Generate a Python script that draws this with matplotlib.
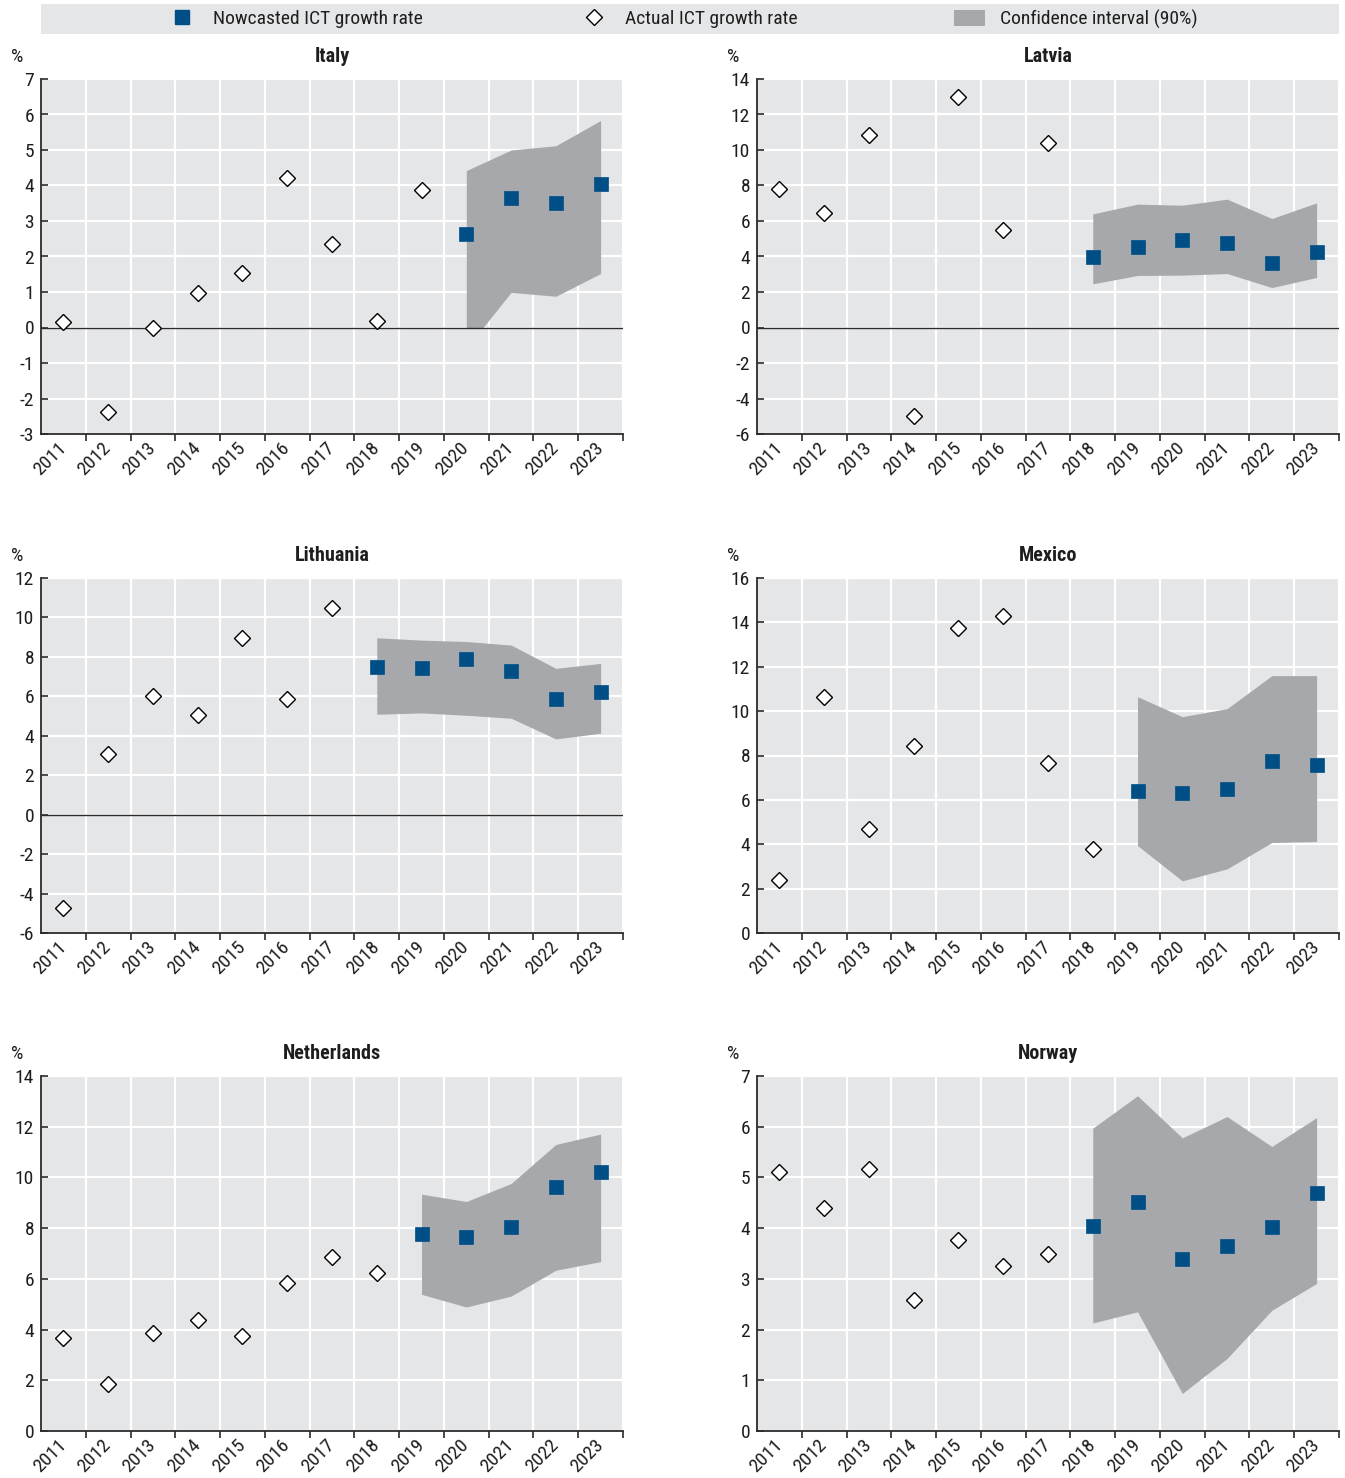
import matplotlib
matplotlib.use("Agg")
import matplotlib.pyplot as plt
from matplotlib import font_manager
from matplotlib.lines import Line2D
from matplotlib.patches import Patch, Rectangle
import numpy as np

# ---------------- data ----------------
years = [str(y) for y in range(2011, 2024)]

italy_actual_years = years[:9]
italy_actual = [0.16, -2.38, 0.0, 0.96, 1.53, 4.22, 2.35, 0.19, 3.86]
italy_nowcast_years = years[9:]
italy_nowcast = [2.62, 3.66, 3.52, 4.04]
italy_lower = [-0.59, 0.99, 0.88, 1.52]
italy_upper = [4.42, 5.00, 5.12, 5.83]

latvia_actual_years = years[:7]
latvia_actual = [7.83, 6.44, 10.85, -5.01, 12.98, 5.50, 10.37]
latvia_nowcast_years = years[7:]
latvia_nowcast = [3.96, 4.56, 4.94, 4.75, 3.66, 4.26]
latvia_lower = [2.46, 2.93, 2.95, 3.04, 2.25, 2.82]
latvia_upper = [6.40, 6.95, 6.89, 7.23, 6.14, 7.02]

lithuania_actual_years = years[:7]
lithuania_actual = [-4.75, 3.08, 6.02, 5.06, 8.95, 5.88, 10.50]
lithuania_nowcast_years = years[7:]
lithuania_nowcast = [7.48, 7.43, 7.90, 7.30, 5.88, 6.20]
lithuania_lower = [5.09, 5.16, 5.04, 4.89, 3.84, 4.13]
lithuania_upper = [8.97, 8.85, 8.78, 8.60, 7.42, 7.67]

mexico_actual_years = years[:8]
mexico_actual = [2.40, 10.62, 4.69, 8.44, 13.76, 14.30, 7.67, 3.78]
mexico_nowcast_years = years[8:]
mexico_nowcast = [6.39, 6.30, 6.51, 7.77, 7.59]
mexico_lower = [3.94, 2.35, 2.89, 4.08, 4.12]
mexico_upper = [10.65, 9.75, 10.11, 11.60, 11.60]

netherlands_actual_years = years[:8]
netherlands_actual = [3.68, 1.84, 3.88, 4.38, 3.75, 5.83, 6.86, 6.24]
netherlands_nowcast_years = years[8:]
netherlands_nowcast = [7.76, 7.66, 8.05, 9.63, 10.22]
netherlands_lower = [5.39, 4.89, 5.32, 6.34, 6.68]
netherlands_upper = [9.34, 9.05, 9.76, 11.30, 11.71]

norway_actual_years = years[:7]
norway_actual = [5.10, 4.39, 5.16, 2.59, 3.76, 3.26, 3.49]
norway_nowcast_years = years[7:]
norway_nowcast = [4.04, 4.51, 3.39, 3.64, 4.03, 4.70]
norway_lower = [2.13, 2.35, 0.74, 1.43, 2.38, 2.91]
norway_upper = [5.97, 6.61, 5.78, 6.20, 5.61, 6.18]

countries = ["Italy", "Latvia", "Lithuania", "Mexico", "Netherlands", "Norway"]
y_ranges = [(-3, 7, 1), (-6, 14, 2), (-6, 12, 2), (0, 16, 2), (0, 14, 2), (0, 7, 1)]

legend_labels = ["Nowcasted ICT growth rate", "Actual ICT growth rate",
                 "Confidence interval (90%)"]

panels = [
    (italy_actual_years, italy_actual, italy_nowcast_years, italy_nowcast, italy_lower, italy_upper),
    (latvia_actual_years, latvia_actual, latvia_nowcast_years, latvia_nowcast, latvia_lower, latvia_upper),
    (lithuania_actual_years, lithuania_actual, lithuania_nowcast_years, lithuania_nowcast, lithuania_lower, lithuania_upper),
    (mexico_actual_years, mexico_actual, mexico_nowcast_years, mexico_nowcast, mexico_lower, mexico_upper),
    (netherlands_actual_years, netherlands_actual, netherlands_nowcast_years, netherlands_nowcast, netherlands_lower, netherlands_upper),
    (norway_actual_years, norway_actual, norway_nowcast_years, norway_nowcast, norway_lower, norway_upper),
]

# ---------------- style ----------------
def pick_font():
    for fam in ["Liberation Sans Narrow", "Roboto Condensed", "Open Sans Condensed",
                "Liberation Sans"]:
        try:
            font_manager.findfont(font_manager.FontProperties(family=fam),
                                  fallback_to_default=False)
            return fam
        except Exception:
            pass
    return "DejaVu Sans"

FONT = pick_font()
plt.rcParams["font.family"] = [FONT, "DejaVu Sans"]

BG = "#e5e6e8"
BLUE = "#004e86"
BAND = "#a7a8ab"
DARK = "#2b2b2b"
TXT = "#1e1e1e"
FS = 14

W, H = 1345, 1478
fig = plt.figure(figsize=(W / 100, H / 100), dpi=100)

def frac_box(x0, y0, x1, y1):
    return [x0 / W, 1 - y1 / H, (x1 - x0) / W, (y1 - y0) / H]

col_x = [(41, 623), (757, 1339)]
row_y = [(79, 434), (578, 933), (1076, 1431)]

idx = {y: i for i, y in enumerate(years)}

for k, (name, (ymin, ymax, ystep), data) in enumerate(zip(countries, y_ranges, panels)):
    r, c = divmod(k, 2)
    ax = fig.add_axes(frac_box(col_x[c][0], row_y[r][0], col_x[c][1], row_y[r][1]))
    a_years, a_vals, n_years, n_vals, lo, up = data
    ax_x = [idx[y] for y in a_years]
    nx = [idx[y] for y in n_years]

    ax.set_facecolor(BG)
    ax.set_xlim(-0.5, len(years) - 0.5)
    ax.set_ylim(ymin, ymax)
    ax.set_axisbelow(True)

    yt = np.arange(ymin, ymax + ystep / 2, ystep)
    ax.set_yticks(yt)
    ax.set_xticks(range(len(years)))
    ax.set_xticks(np.arange(0.5, len(years), 1.0), minor=True)
    ax.grid(True, axis="y", which="major", color="white", lw=1.6, zorder=0)
    ax.grid(True, axis="x", which="minor", color="white", lw=1.6, zorder=0)
    ax.grid(False, axis="x", which="major")

    poly = ax.fill_between(nx, lo, up, color=BAND, lw=0, zorder=1)
    clip = Rectangle((-0.5, 0), len(years), 1000, transform=ax.transData)
    poly.set_clip_path(clip)

    if ymin < 0:
        ax.axhline(0, color=DARK, lw=1.0, zorder=2)

    ax.plot(ax_x, a_vals, ls="none", marker="D", ms=8.0, mfc="white",
            mec="black", mew=1.0, zorder=4, clip_on=False)
    ax.plot(nx, n_vals, ls="none", marker="s", ms=9.4, mfc=BLUE, mec=BLUE,
            mew=0.5, zorder=4, clip_on=False)

    for s in ["top", "right"]:
        ax.spines[s].set_visible(False)
    for s in ["left", "bottom"]:
        ax.spines[s].set_color(DARK)
        ax.spines[s].set_linewidth(1.3)

    ax.set_xticklabels(years, rotation=45, ha="right", va="center",
                       rotation_mode="anchor", fontsize=FS, color=TXT)
    ax.tick_params(axis="x", which="major", length=0, pad=8)
    ax.tick_params(axis="x", which="minor", length=5, width=1.2, direction="out",
                   color=DARK)
    ax.tick_params(axis="y", which="major", length=5, width=1.2, direction="in",
                   color=DARK, labelsize=FS, labelcolor=TXT, pad=5)
    ax.set_yticklabels([f"{v:g}" for v in yt])

    ax.text(0.5, 1.062, name, transform=ax.transAxes, ha="center", va="center",
            fontsize=FS + 0.5, fontweight="bold", color=TXT)
    ax.text(-0.041, 1.062, "%", transform=ax.transAxes, ha="center", va="center",
            fontsize=FS, color=TXT)

# legend bar
lax = fig.add_axes(frac_box(41, 4, 1339, 34))
lax.set_facecolor(BG)
lax.set_xticks([])
lax.set_yticks([])
for s in lax.spines.values():
    s.set_visible(False)
handles = [
    Line2D([], [], ls="none", marker="s", ms=9.5, mfc=BLUE, mec=BLUE),
    Line2D([], [], ls="none", marker="D", ms=8.5, mfc="white", mec="black", mew=1.0),
    Patch(facecolor=BAND, edgecolor="none"),
]
leg = lax.legend(handles, legend_labels, loc="center", ncol=3, frameon=False,
                 fontsize=FS, handlelength=1.6, handleheight=0.9,
                 columnspacing=8.0, handletextpad=0.8, borderaxespad=0,
                 bbox_to_anchor=(0.494, 0.5))
for t in leg.get_texts():
    t.set_color(TXT)

fig.savefig("out.png", dpi=100, facecolor="white")
